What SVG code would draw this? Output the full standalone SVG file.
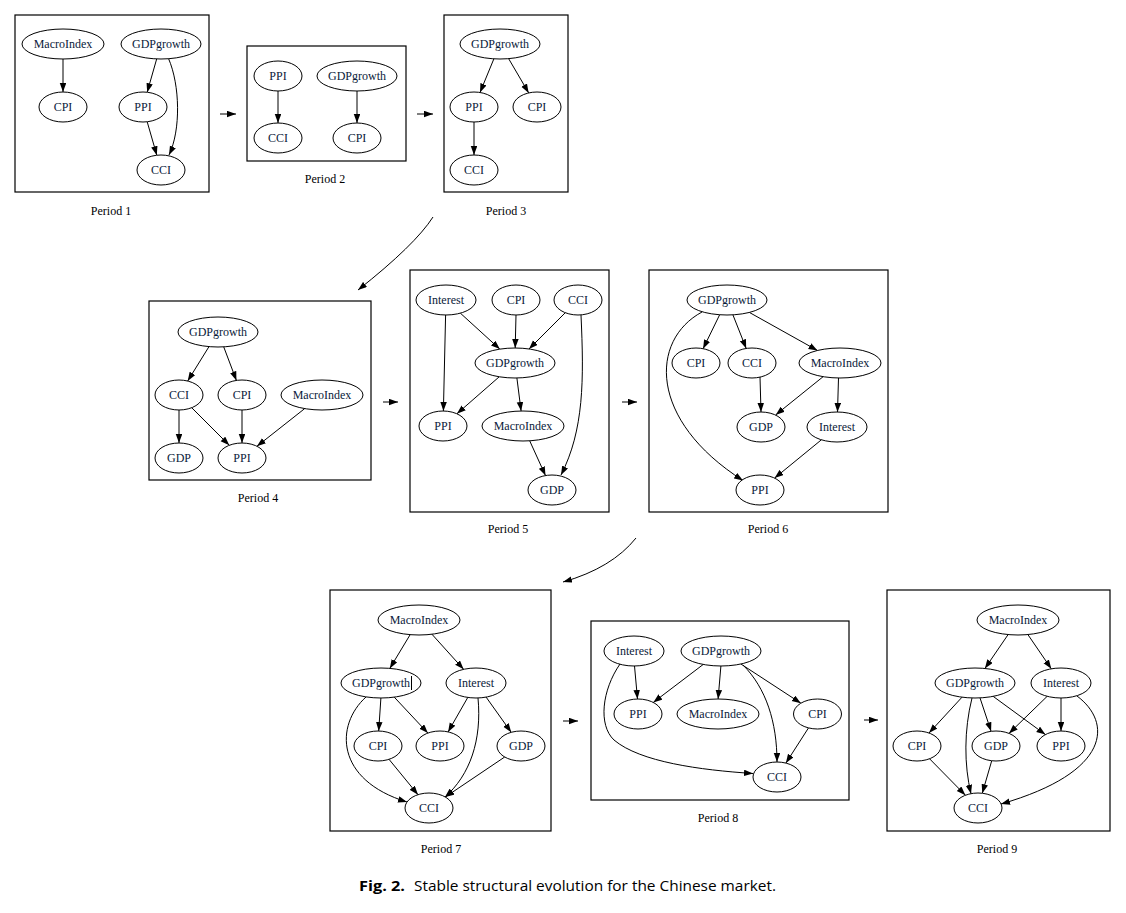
<svg xmlns="http://www.w3.org/2000/svg" width="1126" height="913" viewBox="0 0 1126 913">
<style>
.box{fill:none;stroke:#000;stroke-width:1.2}
.nd ellipse{fill:#fff;stroke:#000;stroke-width:1}
.nd text,.lbl{font-family:"Liberation Serif",serif;font-size:12px;fill:#000;text-anchor:middle}
.nd text{fill:#0a1a3a}
#edges path,#edges line{fill:none;stroke:#000;stroke-width:1;marker-end:url(#ah)}
.cap{font-family:"Open Sans","Liberation Sans",sans-serif;font-size:14.5px;fill:#000}
</style>
<defs>
<marker id="ah" markerUnits="userSpaceOnUse" markerWidth="9" markerHeight="7" refX="9" refY="3.25" orient="auto">
<path d="M0,0 L9,3.25 L0,6.5 z" fill="#000"/>
</marker>
</defs>
<rect width="1126" height="913" fill="#fff"/>

<g id="boxes">
<rect class="box" x="15" y="15" width="194" height="177"/>
<rect class="box" x="247" y="46" width="159" height="115"/>
<rect class="box" x="444" y="15" width="124" height="177"/>
<rect class="box" x="149" y="301" width="222" height="179"/>
<rect class="box" x="410" y="270" width="199" height="242"/>
<rect class="box" x="649" y="270" width="239" height="242"/>
<rect class="box" x="330" y="590" width="221" height="241"/>
<rect class="box" x="591" y="621" width="258" height="179"/>
<rect class="box" x="887" y="590" width="223" height="241"/>
</g>

<g id="edges">
<!-- between periods -->
<line x1="220" y1="114" x2="236" y2="114"/>
<line x1="417" y1="114" x2="433" y2="114"/>
<path d="M433,217 Q415,245 358,290"/>
<line x1="383" y1="402" x2="398" y2="402"/>
<line x1="622" y1="402" x2="637" y2="402"/>
<path d="M636,538 Q612,568 563,582"/>
<line x1="563" y1="721" x2="578" y2="721"/>
<line x1="864" y1="720" x2="878" y2="720"/>
<!-- P1 -->
<line x1="63" y1="59" x2="63" y2="92"/>
<line x1="156.7" y1="58.9" x2="147.2" y2="92.2"/>
<line x1="147.2" y1="121.8" x2="156.8" y2="155.2"/>
<path d="M168.5,58.5 C180,85 181,130 169,155"/>
<!-- P2 -->
<line x1="278" y1="91" x2="278" y2="123"/>
<line x1="357" y1="91" x2="357" y2="123"/>
<!-- P3 -->
<line x1="493.9" y1="58.8" x2="480" y2="92.5"/>
<line x1="508.6" y1="58.6" x2="528.7" y2="92.9"/>
<line x1="474" y1="122" x2="474" y2="155"/>
<!-- P4 -->
<line x1="209" y1="346.6" x2="187.7" y2="381"/>
<line x1="223.7" y1="346.8" x2="236.4" y2="380.4"/>
<line x1="179" y1="410" x2="179" y2="443"/>
<line x1="191.7" y1="407.7" x2="229.3" y2="445.3"/>
<line x1="242" y1="410" x2="242" y2="443"/>
<line x1="304.7" y1="408.6" x2="256.9" y2="446.3"/>
<!-- P5 -->
<line x1="445.6" y1="315" x2="443.4" y2="411"/>
<line x1="460.4" y1="313.2" x2="499.8" y2="349.1"/>
<line x1="516" y1="315" x2="515.2" y2="348"/>
<line x1="565.3" y1="312.7" x2="529" y2="349"/>
<line x1="499.2" y1="376.8" x2="456.9" y2="413.8"/>
<line x1="516.9" y1="378" x2="521.1" y2="411"/>
<line x1="529.7" y1="440.8" x2="545.5" y2="475.6"/>
<path d="M581,315 C584,380 584,430 561,475"/>
<!-- P6 -->
<line x1="719.7" y1="314.7" x2="703.1" y2="348.7"/>
<line x1="732.9" y1="314.8" x2="746.2" y2="348.4"/>
<line x1="749.3" y1="312.4" x2="817.5" y2="350.5"/>
<path d="M702,312 C650,340 648,420 743,480.5"/>
<line x1="760" y1="377" x2="761" y2="412"/>
<line x1="823.1" y1="376.7" x2="775.7" y2="414.9"/>
<line x1="838.5" y1="378" x2="837.5" y2="412"/>
<line x1="821.4" y1="439.8" x2="774.6" y2="478.1"/>
<!-- P7 -->
<line x1="410.2" y1="634.6" x2="389.8" y2="668.4"/>
<line x1="431.9" y1="634.2" x2="463.6" y2="669.3"/>
<line x1="380.9" y1="698" x2="378.7" y2="731"/>
<line x1="394.3" y1="697.2" x2="427.9" y2="733.1"/>
<path d="M366,697 C335,725 335,780 407,802"/>
<line x1="467.8" y1="697.4" x2="448.1" y2="731.9"/>
<line x1="486.1" y1="697.1" x2="511.2" y2="732.3"/>
<path d="M478,698 C482,740 470,775 445,797"/>
<line x1="389" y1="759.3" x2="418" y2="794.7"/>
<line x1="504.7" y1="757" x2="445.3" y2="797"/>
<!-- P8 -->
<line x1="634.5" y1="666" x2="637.5" y2="699"/>
<path d="M620,664 C602,690 598,725 614,740 C640,762 700,770 753,773.5"/>
<line x1="703.3" y1="664.4" x2="653.3" y2="702.4"/>
<line x1="720.9" y1="666" x2="718.1" y2="699"/>
<line x1="740.9" y1="664" x2="800.9" y2="703.2"/>
<path d="M743,665 C766,688 777,722 777,762"/>
<line x1="808.5" y1="727.9" x2="785.9" y2="763.1"/>
<!-- P9 -->
<line x1="1008.1" y1="634.6" x2="984.9" y2="668.5"/>
<line x1="1027.9" y1="634.6" x2="1051.3" y2="668.8"/>
<line x1="962" y1="697.2" x2="929" y2="733"/>
<path d="M972,698 C964,730 964,765 971,793.7"/>
<line x1="980" y1="697.9" x2="991.1" y2="731.3"/>
<line x1="993.2" y1="696.4" x2="1045.4" y2="734.6"/>
<line x1="1047.2" y1="696.3" x2="1009" y2="733.4"/>
<line x1="1061" y1="698" x2="1061" y2="731"/>
<path d="M1077,696 C1112,722 1112,772 1001,804"/>
<line x1="929.6" y1="758.8" x2="965.4" y2="795.2"/>
<line x1="991.7" y1="760.8" x2="982.3" y2="793.2"/>
</g>

<!-- Period 1 -->
<g id="p1-MacroIndex" class="nd"><ellipse cx="63" cy="44" rx="41" ry="15"/><text x="63" y="48">MacroIndex</text></g>
<g id="p1-GDPgrowth" class="nd"><ellipse cx="161" cy="44" rx="40" ry="15"/><text x="161" y="48">GDPgrowth</text></g>
<g id="p1-CPI" class="nd"><ellipse cx="63" cy="107" rx="24" ry="15"/><text x="63" y="111">CPI</text></g>
<g id="p1-PPI" class="nd"><ellipse cx="143" cy="107" rx="24" ry="15"/><text x="143" y="111">PPI</text></g>
<g id="p1-CCI" class="nd"><ellipse cx="161" cy="170" rx="24" ry="15"/><text x="161" y="174">CCI</text></g>
<!-- Period 2 -->
<g id="p2-PPI" class="nd"><ellipse cx="278" cy="76" rx="24" ry="15"/><text x="278" y="80">PPI</text></g>
<g id="p2-GDPgrowth" class="nd"><ellipse cx="357" cy="76" rx="40" ry="15"/><text x="357" y="80">GDPgrowth</text></g>
<g id="p2-CCI" class="nd"><ellipse cx="278" cy="138" rx="24" ry="15"/><text x="278" y="142">CCI</text></g>
<g id="p2-CPI" class="nd"><ellipse cx="357" cy="138" rx="24" ry="15"/><text x="357" y="142">CPI</text></g>
<!-- Period 3 -->
<g id="p3-GDPgrowth" class="nd"><ellipse cx="500" cy="44" rx="40" ry="15"/><text x="500" y="48">GDPgrowth</text></g>
<g id="p3-PPI" class="nd"><ellipse cx="474" cy="107" rx="24" ry="15"/><text x="474" y="111">PPI</text></g>
<g id="p3-CPI" class="nd"><ellipse cx="537" cy="107" rx="24" ry="15"/><text x="537" y="111">CPI</text></g>
<g id="p3-CCI" class="nd"><ellipse cx="474" cy="170" rx="24" ry="15"/><text x="474" y="174">CCI</text></g>
<!-- Period 4 -->
<g id="p4-GDPgrowth" class="nd"><ellipse cx="218" cy="332" rx="40" ry="15"/><text x="218" y="336">GDPgrowth</text></g>
<g id="p4-CCI" class="nd"><ellipse cx="179" cy="395" rx="24" ry="15"/><text x="179" y="399">CCI</text></g>
<g id="p4-CPI" class="nd"><ellipse cx="242" cy="395" rx="24" ry="15"/><text x="242" y="399">CPI</text></g>
<g id="p4-MacroIndex" class="nd"><ellipse cx="322" cy="395" rx="41" ry="15"/><text x="322" y="399">MacroIndex</text></g>
<g id="p4-GDP" class="nd"><ellipse cx="179" cy="458" rx="24" ry="15"/><text x="179" y="462">GDP</text></g>
<g id="p4-PPI" class="nd"><ellipse cx="242" cy="458" rx="24" ry="15"/><text x="242" y="462">PPI</text></g>
<!-- Period 5 -->
<g id="p5-Interest" class="nd"><ellipse cx="446" cy="300" rx="30" ry="15"/><text x="446" y="304">Interest</text></g>
<g id="p5-CPI" class="nd"><ellipse cx="516" cy="300" rx="24" ry="15"/><text x="516" y="304">CPI</text></g>
<g id="p5-CCI" class="nd"><ellipse cx="578" cy="300" rx="24" ry="15"/><text x="578" y="304">CCI</text></g>
<g id="p5-GDPgrowth" class="nd"><ellipse cx="515" cy="363" rx="40" ry="15"/><text x="515" y="367">GDPgrowth</text></g>
<g id="p5-PPI" class="nd"><ellipse cx="443" cy="426" rx="24" ry="15"/><text x="443" y="430">PPI</text></g>
<g id="p5-MacroIndex" class="nd"><ellipse cx="523" cy="426" rx="41" ry="15"/><text x="523" y="430">MacroIndex</text></g>
<g id="p5-GDP" class="nd"><ellipse cx="552" cy="490" rx="24" ry="15"/><text x="552" y="494">GDP</text></g>
<!-- Period 6 -->
<g id="p6-GDPgrowth" class="nd"><ellipse cx="727" cy="300" rx="40" ry="15"/><text x="727" y="304">GDPgrowth</text></g>
<g id="p6-CPI" class="nd"><ellipse cx="696" cy="363" rx="24" ry="15"/><text x="696" y="367">CPI</text></g>
<g id="p6-CCI" class="nd"><ellipse cx="752" cy="363" rx="24" ry="15"/><text x="752" y="367">CCI</text></g>
<g id="p6-MacroIndex" class="nd"><ellipse cx="840" cy="363" rx="41" ry="15"/><text x="840" y="367">MacroIndex</text></g>
<g id="p6-GDP" class="nd"><ellipse cx="761" cy="427" rx="24" ry="15"/><text x="761" y="431">GDP</text></g>
<g id="p6-Interest" class="nd"><ellipse cx="837" cy="427" rx="30" ry="15"/><text x="837" y="431">Interest</text></g>
<g id="p6-PPI" class="nd"><ellipse cx="760" cy="490" rx="24" ry="15"/><text x="760" y="494">PPI</text></g>
<!-- Period 7 -->
<g id="p7-MacroIndex" class="nd"><ellipse cx="419" cy="620" rx="41" ry="15"/><text x="419" y="624">MacroIndex</text></g>
<g id="p7-GDPgrowth" class="nd"><ellipse cx="381" cy="683" rx="40" ry="15"/><text x="381" y="687">GDPgrowth</text><line x1="411.5" y1="676" x2="411.5" y2="690" stroke="#000" stroke-width="1"/></g>
<g id="p7-Interest" class="nd"><ellipse cx="476" cy="683" rx="30" ry="15"/><text x="476" y="687">Interest</text></g>
<g id="p7-CPI" class="nd"><ellipse cx="378" cy="746" rx="24" ry="15"/><text x="378" y="750">CPI</text></g>
<g id="p7-PPI" class="nd"><ellipse cx="440" cy="746" rx="24" ry="15"/><text x="440" y="750">PPI</text></g>
<g id="p7-GDP" class="nd"><ellipse cx="521" cy="746" rx="24" ry="15"/><text x="521" y="750">GDP</text></g>
<g id="p7-CCI" class="nd"><ellipse cx="429" cy="808" rx="24" ry="15"/><text x="429" y="812">CCI</text></g>
<!-- Period 8 -->
<g id="p8-Interest" class="nd"><ellipse cx="634" cy="651" rx="30" ry="15"/><text x="634" y="655">Interest</text></g>
<g id="p8-GDPgrowth" class="nd"><ellipse cx="721" cy="651" rx="40" ry="15"/><text x="721" y="655">GDPgrowth</text></g>
<g id="p8-PPI" class="nd"><ellipse cx="638" cy="714" rx="24" ry="15"/><text x="638" y="718">PPI</text></g>
<g id="p8-MacroIndex" class="nd"><ellipse cx="718" cy="714" rx="41" ry="15"/><text x="718" y="718">MacroIndex</text></g>
<g id="p8-CPI" class="nd"><ellipse cx="817.5" cy="714" rx="24" ry="15"/><text x="817.5" y="718">CPI</text></g>
<g id="p8-CCI" class="nd"><ellipse cx="777" cy="777" rx="24" ry="15"/><text x="777" y="781">CCI</text></g>
<!-- Period 9 -->
<g id="p9-MacroIndex" class="nd"><ellipse cx="1018" cy="620" rx="41" ry="15"/><text x="1018" y="624">MacroIndex</text></g>
<g id="p9-GDPgrowth" class="nd"><ellipse cx="975" cy="683" rx="40" ry="15"/><text x="975" y="687">GDPgrowth</text></g>
<g id="p9-Interest" class="nd"><ellipse cx="1061" cy="683" rx="30" ry="15"/><text x="1061" y="687">Interest</text></g>
<g id="p9-CPI" class="nd"><ellipse cx="917" cy="746" rx="24" ry="15"/><text x="917" y="750">CPI</text></g>
<g id="p9-GDP" class="nd"><ellipse cx="996" cy="746" rx="24" ry="15"/><text x="996" y="750">GDP</text></g>
<g id="p9-PPI" class="nd"><ellipse cx="1061" cy="746" rx="24" ry="15"/><text x="1061" y="750">PPI</text></g>
<g id="p9-CCI" class="nd"><ellipse cx="978" cy="808" rx="24" ry="15"/><text x="978" y="812">CCI</text></g>

<g id="labels">
<text class="lbl" x="111" y="215">Period 1</text>
<text class="lbl" x="325" y="183">Period 2</text>
<text class="lbl" x="506" y="215">Period 3</text>
<text class="lbl" x="258" y="502">Period 4</text>
<text class="lbl" x="508" y="533">Period 5</text>
<text class="lbl" x="768" y="533">Period 6</text>
<text class="lbl" x="441" y="853">Period 7</text>
<text class="lbl" x="718" y="822">Period 8</text>
<text class="lbl" x="997" y="853">Period 9</text>
</g>

<g id="caption">
<text class="cap" x="359" y="891" font-weight="bold" textLength="46" lengthAdjust="spacingAndGlyphs">Fig. 2.</text>
<text class="cap" x="414" y="891" textLength="362" lengthAdjust="spacingAndGlyphs">Stable structural evolution for the Chinese market.</text>
</g>
</svg>
